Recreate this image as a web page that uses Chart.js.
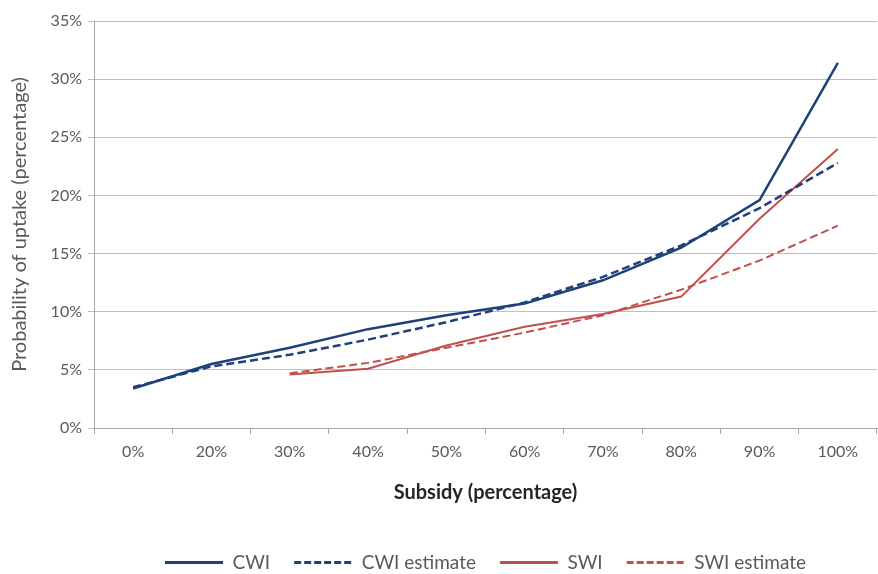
<!DOCTYPE html>
<html lang="en">
    <head>
        <meta charset="UTF-8" />
        <title>Probability of uptake</title>
        <script src="https://cdn.jsdelivr.net/npm/chart.js"></script>
        <style>
            html, body {
                margin: 0;
                padding: 0;
                background: #fff;
            }
            #chart {
                width: 878px;
                height: 574px;
            }
        </style>
    </head>
    <body>
        <div id="chart">
            <canvas id="myChart"></canvas>
        </div>
        <script>
            // Subsidy categories and uptake values (percent)
            const subsidy = ["0%", "20%", "30%", "40%", "50%", "60%", "70%", "80%", "90%", "100%"];
            const cwi = [3.4, 5.5, 6.9, 8.5, 9.7, 10.7, 12.7, 15.5, 19.6, 31.4];
            const cwiEstimate = [3.5, 5.3, 6.3, 7.6, 9.1, 10.8, 13.0, 15.7, 18.9, 22.8];
            const swi = [null, null, 4.6, 5.1, 7.1, 8.7, 9.8, 11.3, 18.0, 24.0];
            const swiEstimate = [null, null, 4.7, 5.6, 6.9, 8.2, 9.7, 11.9, 14.4, 17.4];

            const navy = "#1f4179";
            const red = "#c0504d";
            const grey = "#595959";
            const font = "Lato, 'Open Sans', sans-serif";

            Chart.defaults.font.family = font;
            Chart.defaults.color = grey;

            const ctx = document.getElementById("myChart").getContext("2d");
            const data = {
                labels: subsidy,
                datasets: [
                    {
                        label: "CWI",
                        data: cwi,
                        borderColor: navy,
                        backgroundColor: navy,
                        borderWidth: 2.5,
                    },
                    {
                        label: "CWI estimate",
                        data: cwiEstimate,
                        borderColor: navy,
                        backgroundColor: navy,
                        borderWidth: 2.5,
                        borderDash: [8, 4],
                    },
                    {
                        label: "SWI",
                        data: swi,
                        borderColor: red,
                        backgroundColor: red,
                        borderWidth: 2,
                    },
                    {
                        label: "SWI estimate",
                        data: swiEstimate,
                        borderColor: red,
                        backgroundColor: red,
                        borderWidth: 2,
                        borderDash: [8, 4],
                    },
                ],
            };
            const config = {
                type: "line",
                data: data,
                options: {
                    responsive: true,
                    maintainAspectRatio: false,
                    animation: false,
                    elements: {
                        point: { radius: 0 },
                        line: { tension: 0 },
                    },
                    layout: {
                        padding: { left: 4, right: 1, top: 21, bottom: -8 },
                    },
                    plugins: {
                        tooltip: { enabled: false },
                        legend: {
                            position: "bottom",
                            fullSize: false,
                            labels: {
                                usePointStyle: true,
                                pointStyle: "line",
                                pointStyleWidth: 58,
                                boxHeight: 19,
                                padding: 24,
                                color: grey,
                                font: { size: 19 },
                                // point-style legend drops the dash, so copy it back
                                generateLabels: (chart) => {
                                    const items = Chart.defaults.plugins.legend.labels.generateLabels(chart);
                                    items.forEach((item) => {
                                        const ds = chart.data.datasets[item.datasetIndex];
                                        item.lineDash = ds.borderDash ? [7, 3] : [];
                                        item.lineWidth = 3;
                                        item.strokeStyle = ds.borderColor;
                                    });
                                    return items;
                                },
                            },
                        },
                    },
                    scales: {
                        x: {
                            offset: true,
                            grid: {
                                offset: true,
                                drawOnChartArea: false,
                                color: "#a6a6a6",
                                tickLength: 6,
                            },
                            border: { color: "#a6a6a6" },
                            ticks: {
                                color: grey,
                                font: { size: 16 },
                                padding: 8,
                                maxRotation: 0,
                                autoSkip: false,
                            },
                            title: {
                                display: true,
                                text: "Subsidy (percentage)",
                                color: "#262626",
                                font: { size: 20, weight: "bold" },
                                padding: { top: 8, bottom: 24 },
                            },
                            afterFit: (s) => {
                                s.height = 101;
                            },
                        },
                        y: {
                            min: 0,
                            max: 35,
                            grid: {
                                color: "#bfbfbf",
                                tickLength: 6,
                            },
                            border: { color: "#a6a6a6" },
                            ticks: {
                                stepSize: 5,
                                color: grey,
                                font: { size: 16 },
                                padding: 6,
                                callback: (v) => v + "%",
                            },
                            title: {
                                display: true,
                                text: "Probability of uptake (percentage)",
                                color: grey,
                                font: { size: 20 },
                                padding: { bottom: 0 },
                            },
                            afterFit: (s) => {
                                s.width = 90;
                            },
                        },
                    },
                },
            };
            const myChart = new Chart(ctx, config);
        </script>
    </body>
</html>
